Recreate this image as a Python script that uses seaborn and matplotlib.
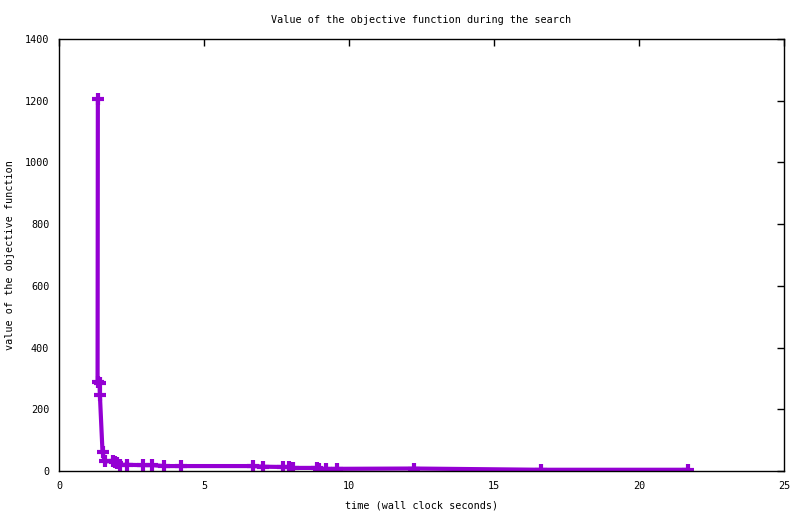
import matplotlib
matplotlib.use("Agg")
import matplotlib.pyplot as plt
import seaborn as sns
import pandas as pd

# values
time_s = [1.34, 1.33, 1.40, 1.41, 1.50, 1.57, 1.85, 1.92, 2.00, 2.09, 2.34, 2.89,
          3.22, 3.61, 4.22, 6.69, 7.04, 7.73, 7.94, 8.06, 8.89, 8.98, 9.22, 9.57,
          12.24, 16.63, 21.68]
objective = [1207, 290, 286, 246, 63, 31, 33, 30, 25, 20, 20, 19,
             19, 16, 16, 16, 14, 13, 13, 10, 10, 7, 7, 7,
             8, 4, 4]

df = pd.DataFrame({"time": time_s, "objective": objective})

sns.set_style("white")
plt.rcParams['font.family'] = ['DejaVu Sans Mono']
plt.rcParams['text.color'] = 'black'
plt.rcParams['axes.labelcolor'] = 'black'
plt.rcParams['xtick.color'] = 'black'
plt.rcParams['ytick.color'] = 'black'

fig = plt.figure(figsize=(8, 5.14), dpi=100)
ax = fig.add_axes([59 / 800, 1 - 471 / 514, (784 - 59) / 800, (471 - 39) / 514])

sns.lineplot(data=df, x="time", y="objective", sort=False, estimator=None,
             color="#9400D3", linewidth=3, marker="+", markersize=9,
             markeredgewidth=3, markeredgecolor="#9400D3", ax=ax)

ax.set_xlim(0, 25)
ax.set_ylim(0, 1400)
ax.set_xticks(range(0, 26, 5))
ax.set_yticks(range(0, 1401, 200))
ax.tick_params(direction="in", top=True, right=True, length=5, width=1,
               labelsize=7.3, pad=7)
for s in ax.spines.values():
    s.set_color("black")
    s.set_linewidth(1)

ax.set_xlabel("time (wall clock seconds)", fontsize=7.3, va="center")
ax.xaxis.set_label_coords(0.5, (471 - 505) / 432)
ax.set_ylabel("value of the objective function", fontsize=7.3, va="center")
ax.yaxis.set_label_coords((10 - 59) / 725, 0.5)
ax.set_title("Value of the objective function during the search", fontsize=7.3,
             y=(471 - 20) / 432, pad=0, va="center")

fig.savefig("out.png", dpi=100)
